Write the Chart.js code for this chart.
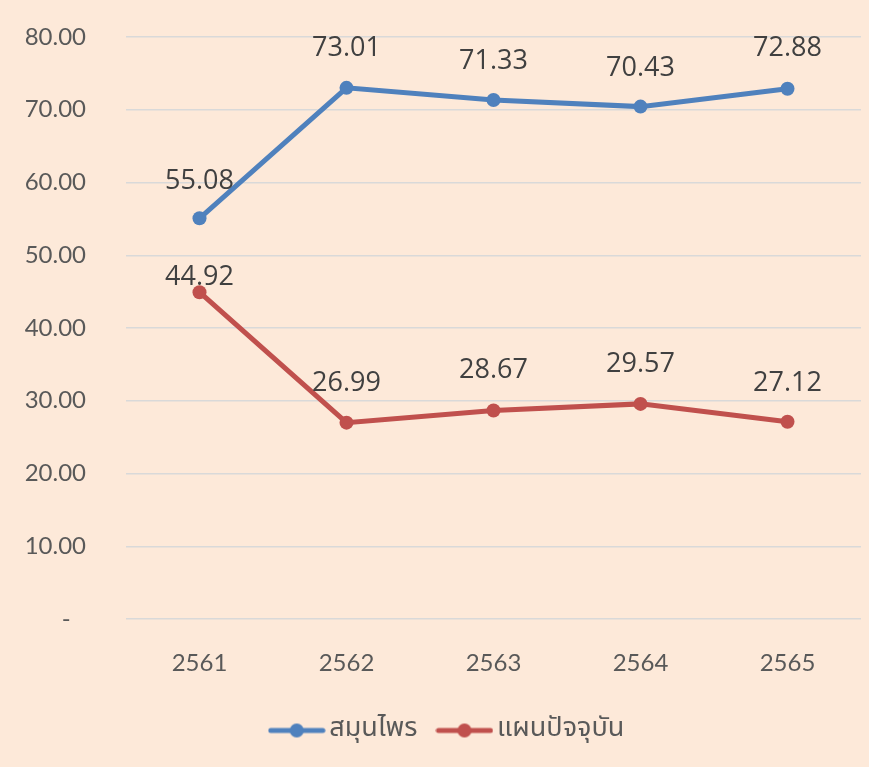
<!DOCTYPE html>
<html>
<head>
<meta charset="utf-8">
<script src="https://cdn.jsdelivr.net/npm/chart.js@4"></script>
<style>
html,body{margin:0;padding:0;background:#FDE9D9;}
#wrap{width:869px;height:767px;position:relative;}
</style>
</head>
<body>
<div id="wrap"><canvas id="c" width="869" height="767"></canvas></div>
<script>
const years = ['2561','2562','2563','2564','2565'];
const herbal = [55.08, 73.01, 71.33, 70.43, 72.88];
const modern = [44.92, 26.99, 28.67, 29.57, 27.12];
const seriesNames = ['สมุนไพร', 'แผนปัจจุบัน'];

const BLUE = '#4F81BD', RED = '#C0504D';

function legendIcon(color){
  const c = document.createElement('canvas');
  c.width = 58; c.height = 16;
  const g = c.getContext('2d');
  g.strokeStyle = color; g.lineWidth = 5; g.lineCap = 'round';
  g.beginPath(); g.moveTo(3,8); g.lineTo(55,8); g.stroke();
  g.fillStyle = color;
  g.beginPath(); g.arc(29,8,7,0,Math.PI*2); g.fill();
  return c;
}

const bgPlugin = {
  id:'bg',
  beforeDraw(chart){
    const ctx = chart.ctx;
    ctx.save(); ctx.fillStyle = '#FDE9D9';
    ctx.fillRect(0,0,chart.width,chart.height); ctx.restore();
  }
};

// shift the legend block slightly right, as in the reference
const legendShift = {
  id:'legendShift',
  afterLayout(chart){ if (chart.legend) chart.legend.left += 41; }
};

const labelPlugin = {
  id:'valLabels',
  afterDatasetsDraw(chart, args, opts){
    const ctx = chart.ctx;
    ctx.save();
    ctx.font = '27px "Open Sans", "Noto Sans", sans-serif';
    ctx.fillStyle = '#404040';
    ctx.textAlign = 'center';
    ctx.textBaseline = 'middle';
    chart.data.datasets.forEach((ds, di) => {
      const meta = chart.getDatasetMeta(di);
      meta.data.forEach((pt, i) => {
        const lift = (opts.lift[di] && opts.lift[di][i] != null) ? opts.lift[di][i] : 38;
        ctx.fillText(ds.data[i].toFixed(2), pt.x, pt.y - lift);
      });
    });
    ctx.restore();
  }
};

const ch = new Chart(document.getElementById('c'), {
  type:'line',
  data:{
    labels: years,
    datasets:[
      {label: seriesNames[0], data: herbal, borderColor: BLUE, backgroundColor: BLUE,
       borderWidth:5, pointRadius:7, pointHoverRadius:7, pointBackgroundColor: BLUE, pointBorderWidth:0, tension:0},
      {label: seriesNames[1], data: modern, borderColor: RED, backgroundColor: RED,
       borderWidth:5, pointRadius:7, pointHoverRadius:7, pointBackgroundColor: RED, pointBorderWidth:0, tension:0}
    ]
  },
  options:{
    responsive:false,
    animation:false,
    layout:{padding:{top:37, right:8, bottom:13, left:0}},
    scales:{
      x:{
        offset:true,
        grid:{display:false, drawTicks:false},
        border:{display:false},
        ticks:{color:'#595959', font:{family:'Lato', size:24}, padding:30},
        afterFit(s){ s.height = 70; }
      },
      y:{
        min:0, max:80,
        ticks:{stepSize:10, color:'#595959', font:{family:'Lato', size:24}, padding:40,
          callback:(v)=> v===0 ? '-  \u2009' : v.toFixed(2)},
        grid:{color:'#D9D9D9', lineWidth:1.5, drawTicks:false},
        border:{display:false},
        afterFit(s){ s.width = 126; s.paddingTop = 0; s.paddingBottom = 0; }
      }
    },
    plugins:{
      legend:{
        position:'bottom',
        labels:{
          color:'#595959',
          font:{family:'"Noto Sans Thai", "Noto Sans", Tahoma, sans-serif', size:27},
          usePointStyle:true,
          pointStyleWidth:38,
          padding:28,
          generateLabels(chart){
            return chart.data.datasets.map((ds,i)=>({
              text: ds.label, pointStyle: legendIcon(ds.borderColor),
              fillStyle: ds.borderColor, strokeStyle: ds.borderColor, fontColor:'#595959',
              lineWidth:0, hidden:false, datasetIndex:i
            }));
          }
        }
      },
      tooltip:{enabled:false},
      valLabels:{ lift: [[37,40,39,38,40],[15,39,40,40,38]] }
    }
  },
  plugins:[bgPlugin, legendShift, labelPlugin]
});
</script>
</body>
</html>
